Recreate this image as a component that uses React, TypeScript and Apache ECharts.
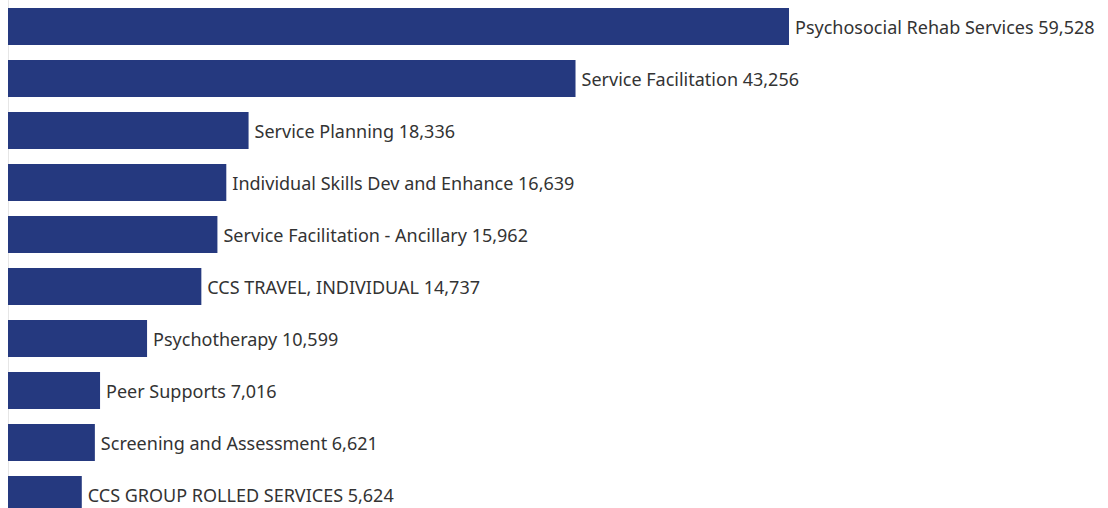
import React, { useEffect, useRef } from "react";
import * as echarts from "echarts";

const categories = [
  "Psychosocial Rehab Services",
  "Service Facilitation",
  "Service Planning",
  "Individual Skills Dev and Enhance",
  "Service Facilitation - Ancillary",
  "CCS TRAVEL, INDIVIDUAL",
  "Psychotherapy",
  "Peer Supports",
  "Screening and Assessment",
  "CCS GROUP ROLLED SERVICES",
];
const values = [59528, 43256, 18336, 16639, 15962, 14737, 10599, 7016, 6621, 5624];

export default function App() {
  const ref = useRef<HTMLDivElement>(null);
  useEffect(() => {
    document.body.style.margin = "0";
    const chart = echarts.init(ref.current!, null, { renderer: "svg" });
    chart.setOption({
      animation: false,
      grid: { left: 8, top: 0.5, width: 1049.6, height: 520, containLabel: false },
      xAxis: {
        type: "value",
        min: 0,
        max: 80000,
        show: false,
      },
      yAxis: {
        type: "category",
        data: categories,
        inverse: true,
        axisLine: { show: true, lineStyle: { color: "#e6e6e6", width: 1 } },
        axisTick: { show: false },
        axisLabel: { show: false },
      },
      series: [
        {
          type: "bar",
          data: values,
          barWidth: 37,
          itemStyle: { color: "#25397f" },
          label: {
            show: true,
            position: "right",
            distance: 6,
            color: "#333333",
            fontFamily: "Noto Sans",
            fontSize: 18,
            formatter: (p: any) =>
              `${p.name} ${Number(p.value).toLocaleString("en-US")}`,
          },
        },
      ],
    });
    return () => chart.dispose();
  }, []);
  return (
    <div style={{ width: 1108, height: 508, overflow: "hidden" }}>
      <div ref={ref} style={{ width: 1108, height: 540 }} />
    </div>
  );
}
